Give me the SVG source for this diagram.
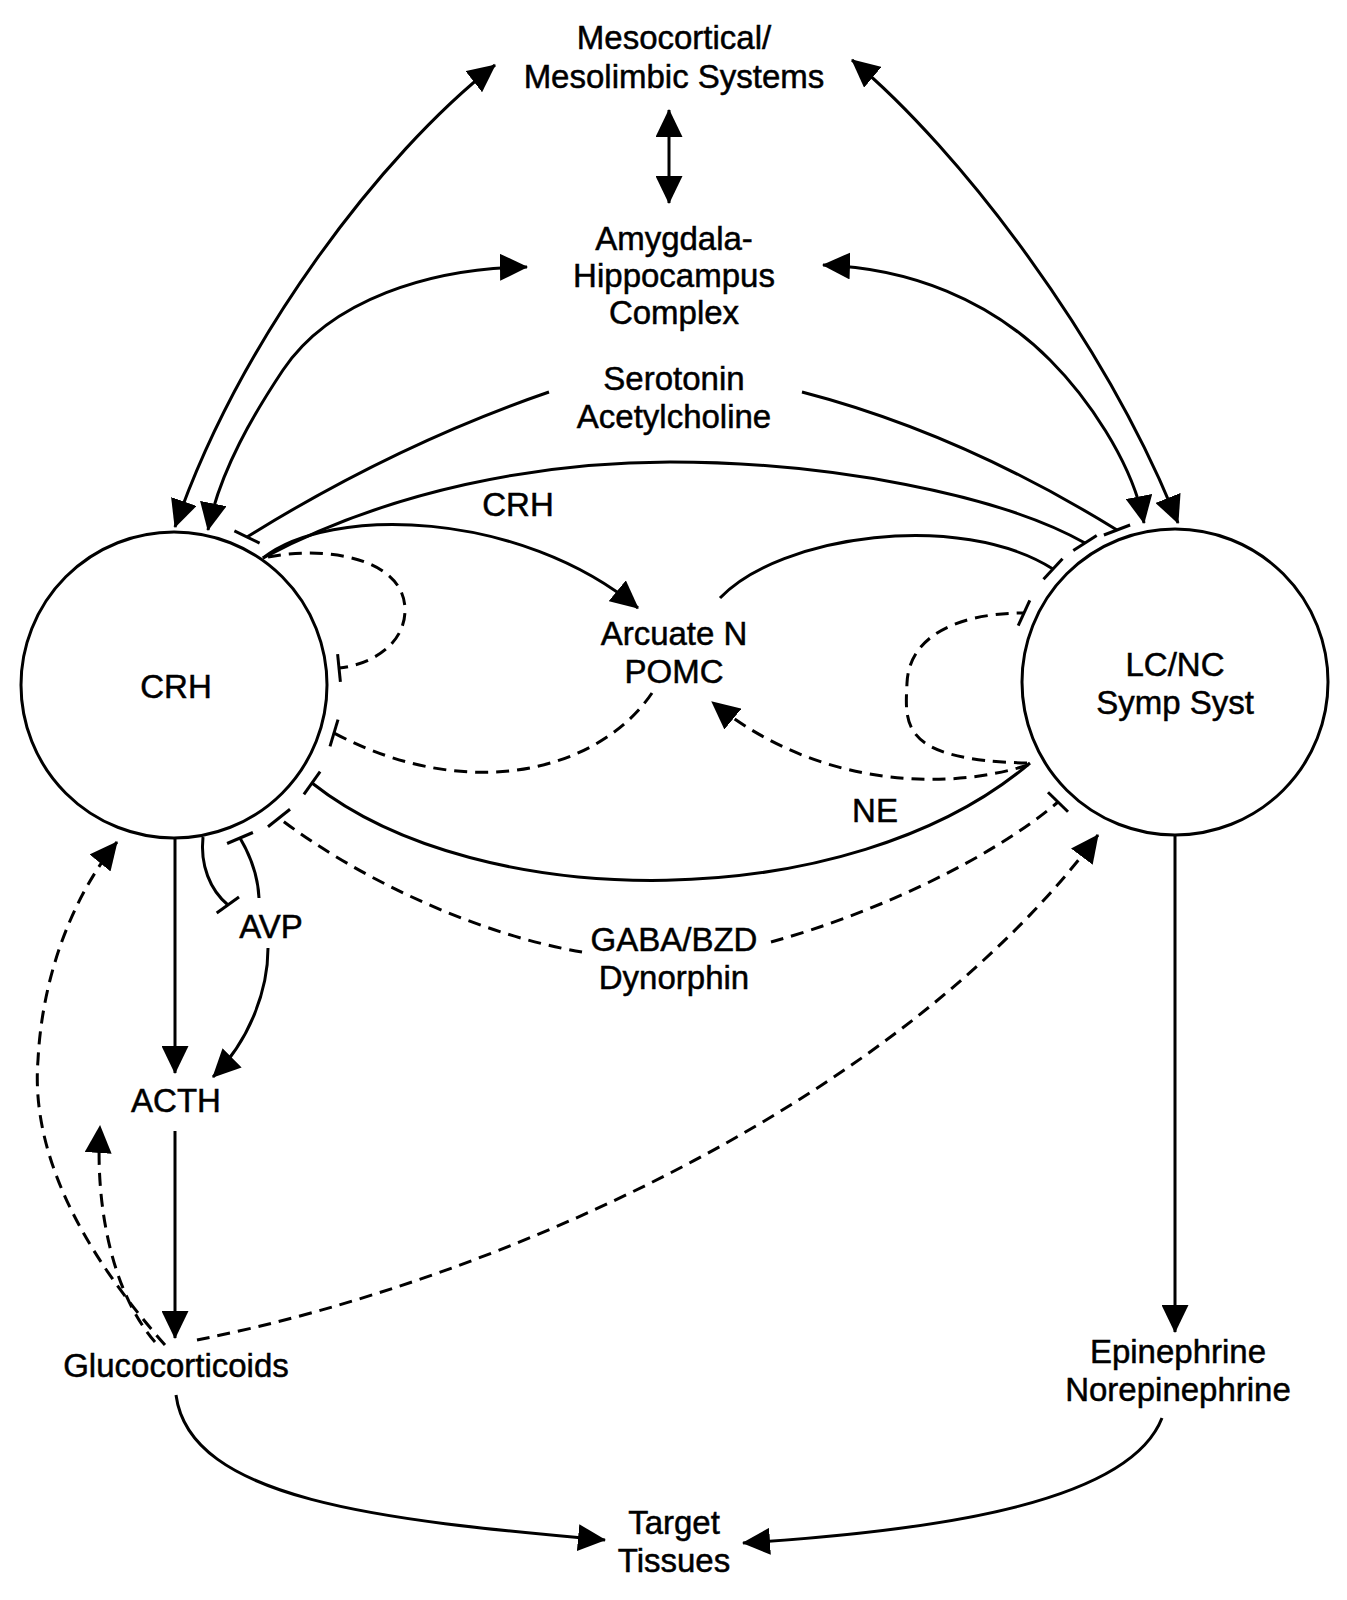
<svg xmlns="http://www.w3.org/2000/svg" width="1347" height="1600" viewBox="0 0 1347 1600">
<style>
  text { font-family: "Liberation Sans", Arial, sans-serif; font-size: 33px; fill: #000; stroke: #000; stroke-width: 0.5; text-anchor: middle; }
  .node circle { fill: none; stroke: #000; stroke-width: 3; }
  .c { fill: none; stroke: #000; stroke-width: 3; }
  .d { fill: none; stroke: #000; stroke-width: 3; stroke-dasharray: 13 8; }
  .a { marker-end: url(#arr); }
  .aa { marker-start: url(#arr); marker-end: url(#arr); }
  .bar { stroke: #000; stroke-width: 3; fill: none; }
</style>
<defs>
  <marker id="arr" markerUnits="userSpaceOnUse" viewBox="0 0 28 27" markerWidth="28" markerHeight="27" refX="27" refY="13.5" orient="auto-start-reverse">
    <path d="M0,0 L28,13.5 L0,27 z" fill="#000"/>
  </marker>
</defs>
<rect width="1347" height="1600" fill="#fff"/>

<g id="connectors">
  <!-- Mesocortical <-> CRH / LC -->
  <path class="c aa" d="M 495 65 C 380 155 240 340 175 527"/>
  <path class="c aa" d="M 852 60 C 960 150 1105 340 1178 523"/>
  <!-- Mesocortical <-> Amygdala -->
  <path class="c aa" d="M 669 110 L 669 203"/>
  <!-- Amygdala <-> CRH / LC -->
  <path class="c aa" d="M 527 267 C 430 268 330 300 283 370 C 255 412 220 470 208 530"/>
  <path class="c aa" d="M 823 265 C 910 268 990 300 1050 360 C 1085 395 1132 460 1144 523"/>
  <!-- Serotonin / Acetylcholine -->
  <path class="c" d="M 549 392 Q 395 445 247 537"/>
  <line class="bar" x1="234.4" y1="530.8" x2="259.6" y2="543.2"/>
  <path class="c" d="M 802 392 Q 960 433 1117 530"/>
  <line class="bar" x1="1103.9" y1="535" x2="1130.1" y2="525"/>
  <!-- CRH outer arc to LC -->
  <path class="c" d="M 263 558 C 390 490 540 462 670 462 C 830 462 1000 495 1085 543"/>
  <line class="bar" x1="1073.3" y1="550.6" x2="1096.7" y2="535.4"/>
  <!-- CRH -> Arcuate -->
  <path class="c a" d="M 263 558 C 330 505 520 510 638 608"/>
  <!-- CRH self loop -->
  <path class="d" d="M 268 557 C 330 545 405 560 405 610 C 405 645 370 665 339 668"/>
  <line class="bar" x1="337.6" y1="654.1" x2="340.4" y2="681.9"/>
  <!-- Arcuate -> CRH -->
  <path class="d" d="M 652 693 C 600 770 470 805 334 733"/>
  <line class="bar" x1="338" y1="719.6" x2="330" y2="746.4"/>
  <!-- Arcuate -> LC -->
  <path class="c" d="M 720 598 C 780 535 960 510 1053 569"/>
  <line class="bar" x1="1043.5" y1="579.3" x2="1062.5" y2="558.7"/>
  <!-- LC self loop -->
  <path class="d" d="M 1027 763 C 900 760 905 725 907 683 C 909 635 960 613 1024 613"/>
  <line class="bar" x1="1018.2" y1="625.7" x2="1029.8" y2="600.3"/>
  <!-- LC -> Arcuate -->
  <path class="d a" d="M 1028 765 C 950 790 820 790 712 702"/>
  <!-- NE -->
  <path class="c" d="M 1030 763 C 850 916 480 916 312 783"/>
  <line class="bar" x1="320.1" y1="771.6" x2="303.9" y2="794.4"/>
  <!-- GABA/BZD Dynorphin -->
  <path class="d" d="M 582 952 C 480 935 360 880 279 818"/>
  <line class="bar" x1="290" y1="809.3" x2="268" y2="826.7"/>
  <path class="d" d="M 771 942 C 870 915 990 860 1058 802"/>
  <line class="bar" x1="1068" y1="811.8" x2="1048" y2="792.2"/>
  <!-- AVP -->
  <path class="c" d="M 203 837 C 200 865 210 890 228 905"/>
  <line class="bar" x1="216.7" y1="913" x2="239" y2="897"/>
  <path class="c" d="M 259 898 C 258 875 250 855 240 838"/>
  <line class="bar" x1="252.9" y1="832.5" x2="227.1" y2="843.5"/>
  <path class="c a" d="M 268 948 C 268 990 250 1040 213 1077"/>
  <!-- HPA axis -->
  <path class="c a" d="M 175 838 L 175 1073"/>
  <path class="c a" d="M 175 1131 L 175 1338"/>
  <!-- Glucocorticoid feedback -->
  <path class="d a" d="M 165 1345 C 90 1260 30 1160 38 1060 C 42 980 70 900 117 842"/>
  <path class="d a" d="M 155 1342 C 110 1290 95 1200 100 1126"/>
  <path class="d a" d="M 197 1340 C 500 1280 900 1100 1098 835"/>
  <!-- LC -> Epinephrine -->
  <path class="c a" d="M 1175 835 L 1175 1332"/>
  <!-- To target tissues -->
  <path class="c a" d="M 176 1395 C 190 1500 380 1520 605 1540"/>
  <path class="c a" d="M 1162 1418 C 1130 1500 950 1530 743 1543"/>

  <g id="connector-labels">
    <text x="674" y="390">Serotonin</text>
    <text x="674" y="428">Acetylcholine</text>
    <text x="518" y="516">CRH</text>
    <text x="875" y="822">NE</text>
    <text x="271" y="938">AVP</text>
    <text x="674" y="951">GABA/BZD</text>
    <text x="674" y="989">Dynorphin</text>
  </g>
</g>

<g id="node-meso" class="node">
  <text x="674" y="49">Mesocortical/</text>
  <text x="674" y="88">Mesolimbic Systems</text>
</g>
<g id="node-amygdala" class="node">
  <text x="674" y="250">Amygdala-</text>
  <text x="674" y="287">Hippocampus</text>
  <text x="674" y="324">Complex</text>
</g>
<g id="node-crh" class="node">
  <circle cx="174" cy="685" r="153"/>
  <text x="176" y="698">CRH</text>
</g>
<g id="node-lc" class="node">
  <circle cx="1175" cy="682" r="153"/>
  <text x="1175" y="676">LC/NC</text>
  <text x="1175" y="714">Symp Syst</text>
</g>
<g id="node-arcuate" class="node">
  <text x="674" y="645">Arcuate N</text>
  <text x="674" y="683">POMC</text>
</g>
<g id="node-acth" class="node">
  <text x="176" y="1112">ACTH</text>
</g>
<g id="node-glucocorticoids" class="node">
  <text x="176" y="1377">Glucocorticoids</text>
</g>
<g id="node-catecholamines" class="node">
  <text x="1178" y="1363">Epinephrine</text>
  <text x="1178" y="1401">Norepinephrine</text>
</g>
<g id="node-target" class="node">
  <text x="674" y="1534">Target</text>
  <text x="674" y="1572">Tissues</text>
</g>
</svg>
